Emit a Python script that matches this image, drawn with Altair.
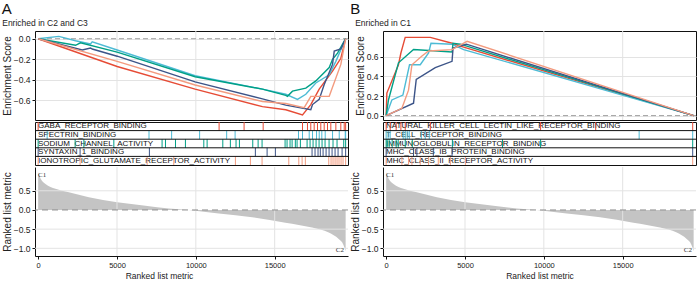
import altair as alt
import pandas as pd

FONT = "Liberation Sans"
COLORS = ["#E64B35", "#4DBBD5", "#00A087", "#3C5488", "#F39B7F"]

SETS_A = ["GABA_RECEPTOR_BINDING", "SPECTRIN_BINDING", "SODIUM_CHANNEL_ACTIVITY",
          "SYNTAXIN_1_BINDING", "IONOTROPIC_GLUTAMATE_RECEPTOR_ACTIVITY"]
SETS_B = ["NATURAL_KILLER_CELL_LECTIN_LIKE_RECEPTOR_BINDING", "T_CELL_RECEPTOR_BINDING",
          "IMMUNOGLOBULIN_RECEPTOR_BINDING", "MHC_CLASS_IB_PROTEIN_BINDING",
          "MHC_CLASS_II_RECEPTOR_ACTIVITY"]

# ---- running enrichment score curves (rank, ES) ----
A_GABA_X = [0, 5010, 9955, 14224, 15705, 16764, 17291, 17824, 18669, 19196, 19500]
A_GABA_Y = [0, -0.27, -0.49, -0.66, -0.69, -0.74, -0.64, -0.49, -0.315, -0.19, 0]
A_SPEC_X = [0, 1315, 2370, 3321, 3429, 5010, 9955, 14224, 15705, 16447, 16974, 17609, 18459, 18879, 19500]
A_SPEC_Y = [0, 0.023, -0.02, -0.05, -0.03, -0.11, -0.36, -0.49, -0.54, -0.59, -0.54, -0.43, -0.35, -0.22, 0]
A_SOD_X = [0, 2370, 2686, 5010, 9955, 14224, 15705, 15812, 16129, 16974, 17609, 18459, 18669, 18987, 19500]
A_SOD_Y = [0, -0.064, -0.04, -0.13, -0.37, -0.49, -0.55, -0.56, -0.51, -0.48, -0.41, -0.28, -0.2, -0.14, 0]
A_SYN_X = [0, 2794, 3321, 3429, 5010, 9955, 14224, 15705, 17291, 17399, 17824, 18142, 18669, 18777, 19196, 19500]
A_SYN_Y = [0, -0.11, -0.09, -0.1, -0.17, -0.42, -0.585, -0.645, -0.69, -0.64, -0.59, -0.445, -0.25, -0.12, -0.1, 0]
A_ION_X = [0, 5010, 9955, 14224, 15705, 16872, 17291, 18459, 19196, 19500]
A_ION_Y = [0, -0.22, -0.45, -0.61, -0.63, -0.67, -0.56, -0.56, -0.25, 0]

B_NK_X = [0, 45, 782, 935, 1208, 2798, 4178, 4706, 19500]
B_NK_Y = [0, 0.23, 0.52, 0.64, 0.80, 0.80, 0.74, 0.71, 0]
B_TCR_X = [0, 362, 1062, 1482, 2162, 2690, 2843, 4178, 4916, 19500]
B_TCR_Y = [0, 0.16, 0.21, 0.52, 0.52, 0.64, 0.74, 0.73, 0.675, 0]
B_IG_X = [0, 146, 782, 1736, 4178, 4242, 4706, 19500]
B_IG_Y = [0, 0.16, 0.54, 0.675, 0.65, 0.74, 0.73, 0]
B_IB_X = [0, 1736, 1908, 3116, 4178, 4242, 5088, 19500]
B_IB_Y = [0, 0.127, 0.37, 0.49, 0.555, 0.69, 0.73, 0]
B_II_X = [0, 998, 1418, 1635, 2271, 2690, 4178, 5133, 19500]
B_II_Y = [0, 0.075, 0.26, 0.52, 0.61, 0.66, 0.675, 0.76, 0]

# ---- hit positions (ranks) ----
A_GABA_HITS = [0, 11475, 13060, 14270, 16765, 17080, 17290, 17505, 17715, 17925, 18140, 18350, 18560, 18880, 19195, 19410, 19500]
A_SPEC_HITS = [570, 7030, 8465, 10240, 11955, 12490, 16510, 16765, 17190, 17400, 17655, 17825, 17990, 18205, 18670, 19095, 19475, 19500]
A_SOD_HITS = [0, 2345, 2900, 4800, 7860, 8075, 8710, 9340, 10505, 10715, 11710, 12190, 12550, 12765, 13610, 13950, 14200,
              15660, 15785, 15975, 16105, 16310, 16420, 16630, 17055, 17245, 17435, 17625, 17815, 18005, 18195, 18450,
              18700, 18955, 19380, 19500]
A_SYN_HITS = [0, 2660, 7055, 13775, 14520, 15045, 17370, 17560, 17750, 17895, 18070, 18260, 18450, 18640, 18830, 19020, 19275, 19500]
A_ION_HITS = [0, 2660, 6910, 8600, 12510, 13460, 14200, 15895, 16530, 16740, 16945, 18430, 18575, 18700, 18830, 18955,
              19080, 19210, 19335, 19500]

B_NK_HITS = [0, 255, 635, 935, 1210, 2800, 9795, 13290, 19440]
B_TCR_HITS = [0, 125, 255, 1080, 1210, 1335, 1465, 2225, 2480, 2735, 16045, 19440]
B_IG_HITS = [0, 65, 190, 380, 635, 765, 1210, 1655, 4200, 7380, 9795, 19440]
B_IB_HITS = [0, 1735, 1950, 2990, 4180, 19440]
B_II_HITS = [0, 1000, 1420, 1635, 2160, 2690, 3305, 4070, 5025, 19440]

# ---- ranked list metric ----
METRIC_RANK = [0, 150, 465, 1100, 1945, 3215, 5010, 6805, 8285, 9555, 11455, 13570, 15680, 17370, 18430, 19060, 19350, 19500]
METRIC_VALUE = [0.98, 0.82, 0.68, 0.55, 0.46, 0.33, 0.20, 0.11, 0.04, 0.0, -0.09, -0.19, -0.33, -0.46, -0.59, -0.76, -0.9, -1.07]

X_TICKS = [0, 5000, 10000, 15000]
GRID_X = [5000, 10000, 15000]
XDOM = [-200, 19650]
W = 313
H_ES = 89
H_HIT = 43
H_RANK = 89


def es_frame(sets, xs, ys):
    rows = []
    for s, xl, yl in zip(sets, xs, ys):
        for i, (x, y) in enumerate(zip(xl, yl)):
            rows.append({"set": s, "rank": x, "es": y, "i": i})
    return pd.DataFrame(rows)


def hit_frame(sets, hits):
    rows = []
    for k, (s, hl) in enumerate(zip(sets, hits)):
        for h in hl:
            rows.append({"set": s, "rank": h, "row": k})
    return pd.DataFrame(rows)


def xscale():
    return alt.Scale(domain=XDOM, nice=False, zero=False)


def es_chart(df, sets, title, ydom, yticks):
    ysc = alt.Scale(domain=ydom, nice=False, zero=False)
    yax = alt.Axis(values=yticks, format=".1f", title="Enrichment Score", grid=True,
                   gridColor="#e3e3e3", tickSize=3, domain=False, titlePadding=1)
    lines = alt.Chart(df).mark_line(strokeWidth=1.4, clip=True).encode(
        x=alt.X("rank:Q", scale=xscale(), axis=None),
        y=alt.Y("es:Q", scale=ysc, axis=yax),
        color=alt.Color("set:N", scale=alt.Scale(domain=sets, range=COLORS), legend=None),
        order="i:Q")
    grid_v = alt.Chart(pd.DataFrame({"g": GRID_X})).mark_rule(color="#e3e3e3", strokeWidth=1).encode(
        x=alt.X("g:Q", scale=xscale(), axis=None))
    zero = alt.Chart(pd.DataFrame({"v": [0.0]})).mark_rule(color="#a0a0a0", strokeDash=[5, 3], strokeWidth=1).encode(
        y=alt.Y("v:Q", scale=ysc, axis=yax))
    return alt.layer(grid_v, zero, lines).properties(
        width=W, height=H_ES,
        title=alt.TitleParams(title, anchor="start", fontSize=8.5, fontWeight="normal", font=FONT,
                              offset=3, color="#222"))


def hit_chart(df, sets):
    ysc = alt.Scale(domain=[5, 0], nice=False, zero=False)
    lab = pd.DataFrame({"set": sets, "row": list(range(5))})
    labels = alt.Chart(lab).transform_calculate(mid="datum.row + 0.5").mark_text(
        align="left", baseline="middle", fontSize=8, font=FONT, dx=3, color="#111").encode(
        x=alt.value(0), y=alt.Y("mid:Q", scale=ysc, axis=None), text="set:N")
    bars = alt.Chart(df).transform_calculate(r1="datum.row + 1").mark_rule(strokeWidth=1).encode(
        x=alt.X("rank:Q", scale=xscale(), axis=None),
        y=alt.Y("row:Q", scale=ysc, axis=None), y2="r1:Q",
        color=alt.Color("set:N", scale=alt.Scale(domain=sets, range=COLORS), legend=None))
    borders = alt.Chart(pd.DataFrame({"b": [1, 2, 3, 4]})).mark_rule(color="#111", strokeWidth=1).encode(
        y=alt.Y("b:Q", scale=ysc, axis=None))
    return alt.layer(labels, bars, borders).properties(width=W, height=H_HIT)


def rank_chart(title_x):
    df = pd.DataFrame({"rank": METRIC_RANK, "metric": METRIC_VALUE})
    ysc = alt.Scale(domain=[-1.2, 1.12], nice=False, zero=False)
    xax_kw = dict(values=X_TICKS, format="d", title="Ranked list metric", grid=False, tickSize=3,
                  domainColor="#111", tickColor="#111", titlePadding=3, labelFontSize=7.5,
                  titleFontSize=8.5)
    if title_x is not None:
        xax_kw["titleX"] = title_x
    xax = alt.Axis(**xax_kw)
    yax = alt.Axis(values=[-1.0, -0.5, 0.0, 0.5], format=".1f", title="Ranked list metric",
                   grid=False, tickSize=3, domainColor="#111", tickColor="#111", titlePadding=1)
    area = alt.Chart(df).mark_area(color="#c4c4c4", interpolate="monotone").encode(
        x=alt.X("rank:Q", scale=xscale(), axis=xax),
        y=alt.Y("metric:Q", scale=ysc, axis=yax),
        y2=alt.datum(0))
    gv = alt.Chart(pd.DataFrame({"g": GRID_X})).mark_rule(color="#e3e3e3").encode(
        x=alt.X("g:Q", scale=xscale(), axis=xax))
    gh = alt.Chart(pd.DataFrame({"g": [0.5, -0.5, -1.0]})).mark_rule(color="#e3e3e3").encode(
        y=alt.Y("g:Q", scale=ysc, axis=yax))
    zero = alt.Chart(pd.DataFrame({"v": [0.0]})).mark_rule(color="#909090", strokeDash=[6, 4]).encode(
        y=alt.Y("v:Q", scale=ysc, axis=yax))
    c1 = alt.Chart(pd.DataFrame({"t": ["C1"]})).mark_text(
        align="left", baseline="top", font="Liberation Serif", fontSize=7, color="#333").encode(
        x=alt.value(3), y=alt.value(4), text="t:N")
    c2 = alt.Chart(pd.DataFrame({"t": ["C2"]})).mark_text(
        align="right", baseline="bottom", font="Liberation Serif", fontSize=7, color="#333").encode(
        x=alt.value(W - 4), y=alt.value(H_RANK - 3), text="t:N")
    return alt.layer(area, gv, gh, zero, c1, c2).properties(
        width=W, height=H_RANK, view=alt.ViewBackground(strokeOpacity=0))


def column(letter, sets, es_xs, es_ys, hits, title, ydom, yticks, title_x):
    es = es_chart(es_frame(sets, es_xs, es_ys), sets, title, ydom, yticks)
    ht = hit_chart(hit_frame(sets, hits), sets)
    rk = rank_chart(title_x)
    return alt.vconcat(es, ht, rk, spacing=0).properties(
        title=alt.TitleParams(letter, anchor="start", fontSize=15, fontWeight="normal", font=FONT,
                              color="#111", offset=2))


colA = column("A", SETS_A,
              [A_GABA_X, A_SPEC_X, A_SOD_X, A_SYN_X, A_ION_X],
              [A_GABA_Y, A_SPEC_Y, A_SOD_Y, A_SYN_Y, A_ION_Y],
              [A_GABA_HITS, A_SPEC_HITS, A_SOD_HITS, A_SYN_HITS, A_ION_HITS],
              "Enriched in C2 and C3", [-0.79, 0.075], [-0.6, -0.4, -0.2, 0.0], 124)
colB = column("B", SETS_B,
              [B_NK_X, B_TCR_X, B_IG_X, B_IB_X, B_II_X],
              [B_NK_Y, B_TCR_Y, B_IG_Y, B_IB_Y, B_II_Y],
              [B_NK_HITS, B_TCR_HITS, B_IG_HITS, B_IB_HITS, B_II_HITS],
              "Enriched in C1", [-0.045, 0.865], [0.0, 0.2, 0.4, 0.6], None)

chart = alt.hconcat(colA, colB, spacing=1).properties(
    padding={"left": 1, "top": 1, "right": 0, "bottom": 0}
).configure(font=FONT).configure_view(stroke="#111", strokeWidth=1).configure_axis(
    labelFont=FONT, titleFont=FONT, labelFontSize=8.5, titleFontSize=10, titleFontWeight="normal",
    labelColor="#1a1a1a", titleColor="#222", tickColor="#111", labelPadding=2
)

chart.save("out.html", embed_options={"renderer": "svg", "actions": False})
